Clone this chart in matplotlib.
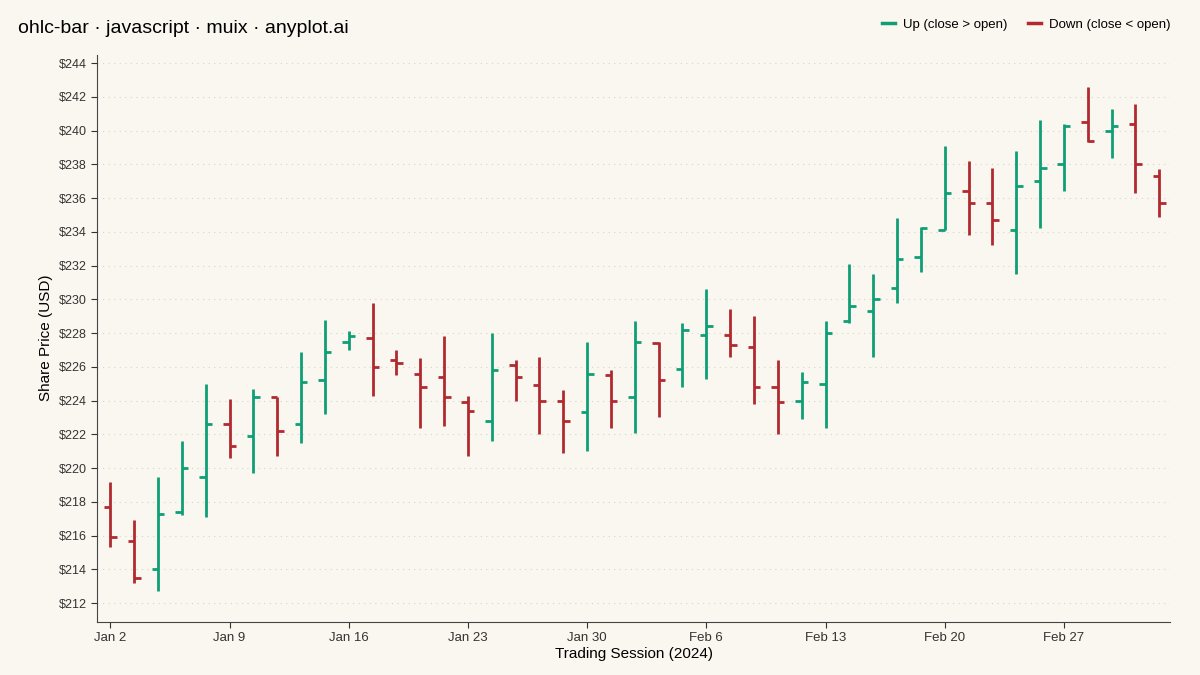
import numpy as np
import pandas as pd
import matplotlib
matplotlib.use("Agg")
import matplotlib.pyplot as plt
from matplotlib.lines import Line2D

plt.rcParams['font.family'] = ['Liberation Sans', 'DejaVu Sans']

# trading sessions (weekdays from Jan 2, 2024)
dates = pd.bdate_range("2024-01-02", periods=45)

opens = [217.7, 215.7, 214.0, 217.4, 219.5, 222.6, 221.9, 224.2, 222.6, 225.2,
         227.5, 227.7, 226.4, 225.6, 225.4, 223.9, 222.8, 226.1, 224.9, 224.0,
         223.3, 225.5, 224.2, 227.4, 225.9, 227.9, 227.9, 227.2, 224.8, 224.0,
         225.0, 228.7, 229.3, 230.7, 232.5, 234.1, 236.4, 235.7, 234.1, 237.0,
         238.0, 240.5, 240.0, 240.4, 237.3]
highs = [219.2, 216.9, 219.5, 221.6, 225.0, 224.1, 224.7, 224.2, 226.9, 228.8,
         228.1, 229.8, 227.0, 226.5, 227.8, 224.3, 228.0, 226.4, 226.6, 224.6,
         227.5, 225.8, 228.7, 227.5, 228.6, 230.6, 229.4, 229.0, 226.4, 225.7,
         228.7, 232.1, 231.5, 234.8, 234.3, 239.1, 238.2, 237.8, 238.8, 240.6,
         240.4, 242.6, 241.3, 241.6, 237.7]
lows = [215.3, 213.2, 212.7, 217.2, 217.1, 220.6, 219.7, 220.7, 221.5, 223.2,
        227.0, 224.3, 225.5, 222.4, 222.5, 220.7, 221.6, 224.0, 222.0, 220.9,
        221.0, 222.4, 222.1, 223.0, 224.8, 225.3, 226.6, 223.8, 222.0, 222.9,
        222.4, 228.6, 226.6, 229.8, 231.6, 234.1, 233.8, 233.2, 231.5, 234.2,
        236.4, 239.3, 238.4, 236.3, 234.9]
closes = [215.9, 213.5, 217.3, 220.0, 222.6, 221.3, 224.2, 222.2, 225.1, 226.9,
          227.8, 226.0, 226.2, 224.8, 224.2, 223.4, 225.8, 225.4, 224.0, 222.8,
          225.6, 224.0, 227.5, 225.2, 228.2, 228.4, 227.3, 224.8, 223.9, 225.1,
          228.0, 229.6, 230.0, 232.4, 234.2, 236.3, 235.7, 234.7, 236.7, 237.8,
          240.3, 239.4, 240.3, 238.0, 235.7]

UP = "#0e9f76"
DOWN = "#b02a30"
BG = "#faf7f0"

fig = plt.figure(figsize=(12, 6.75), dpi=100, facecolor=BG)
ax = fig.add_axes([0.081, 0.079, 0.894, 0.84], facecolor=BG)

x = np.arange(len(dates))
tick_w = 0.27
for i in x:
    c = UP if closes[i] > opens[i] else DOWN
    ax.plot([i, i], [lows[i], highs[i]], color=c, lw=2, solid_capstyle="butt")
    ax.plot([i - tick_w, i], [opens[i], opens[i]], color=c, lw=2, solid_capstyle="butt")
    ax.plot([i, i + tick_w], [closes[i], closes[i]], color=c, lw=2, solid_capstyle="butt")

ax.set_xlim(-0.55, 44.45)
ax.set_ylim(210.9, 244.5)
ax.set_yticks(np.arange(212, 245, 2))
ax.set_yticklabels([f"${v}" for v in range(212, 245, 2)], fontsize=9)
ticks = x[::5]
ax.set_xticks(ticks)
ax.set_xticklabels([f"{d.strftime('%b')} {d.day}" for d in dates[::5]], fontsize=9.5)
ax.grid(axis="y", linestyle=(0, (1, 4)), color="#d8d4cc", lw=0.8)
ax.set_axisbelow(True)
for s in ["top", "right"]:
    ax.spines[s].set_visible(False)
for s in ["left", "bottom"]:
    ax.spines[s].set_color("#444444")
ax.tick_params(colors="#333333", length=4)
ax.set_xlabel("Trading Session (2024)", fontsize=11, labelpad=2)
ax.set_ylabel("Share Price (USD)", fontsize=11)

fig.text(0.015, 0.97, "ohlc-bar · javascript · muix · anyplot.ai", fontsize=14, va="top")
handles = [Line2D([], [], color=UP, lw=2.5), Line2D([], [], color=DOWN, lw=2.5)]
fig.legend(handles, ["Up (close > open)", "Down (close < open)"], loc="upper right",
           bbox_to_anchor=(0.985, 0.99), ncol=2, frameon=False, fontsize=9.5,
           handlelength=1.0, columnspacing=1.5, handletextpad=0.6)

fig.savefig("out.png", dpi=100, facecolor=BG)
